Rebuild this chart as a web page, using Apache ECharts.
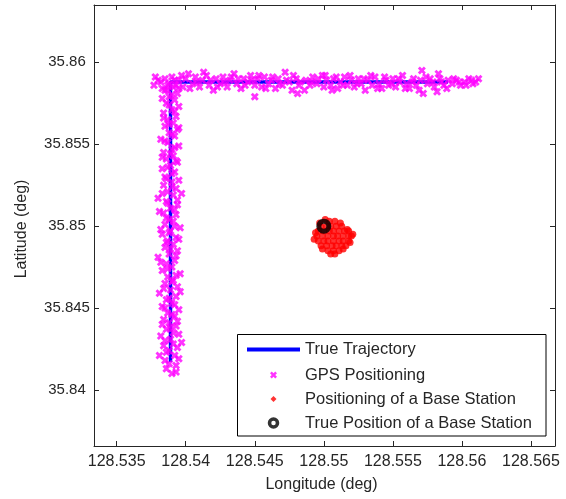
<!DOCTYPE html>
<html>
<head>
<meta charset="utf-8">
<script src="https://cdn.jsdelivr.net/npm/echarts@6/dist/echarts.min.js"></script>
<style>
html,body{margin:0;padding:0;background:#fff;}
#chart{width:566px;height:499px;}
</style>
</head>
<body>
<div id="chart"></div>
<script>
// ---------- data ----------
const xTicks = [128.535, 128.54, 128.545, 128.55, 128.555, 128.56, 128.565];
const xTickLabels = ['128.535', '128.54', '128.545', '128.55', '128.555', '128.56', '128.565'];
const yTicks = [35.84, 35.845, 35.85, 35.855, 35.86];
const yTickLabels = ['35.84', '35.845', '35.85', '35.855', '35.86'];
const xRange = [128.53336, 128.56674];
const yRange = [35.83658, 35.8635];

const seriesNames = ['True Trajectory', 'GPS Positioning', 'Positioning of a Base Station', 'True Position of a Base Station'];

const trueTrajectory = [
  [128.5389, 35.8417], [128.5389, 35.8588], [128.5590, 35.8588]
];

const gpsHorizontal = [
  [128.5377,35.8586],[128.5380,35.8589],[128.5383,35.8584],[128.5385,35.8590],[128.5388,35.8587],
  [128.5390,35.8591],[128.5393,35.8586],[128.5395,35.8589],[128.5398,35.8585],[128.5400,35.8590],
  [128.5402,35.8593],[128.5405,35.8587],[128.5407,35.8591],[128.5410,35.8585],[128.5412,35.8589],
  [128.5415,35.8592],[128.5417,35.8586],[128.5420,35.8583],[128.5422,35.8590],[128.5425,35.8587],
  [128.5427,35.8591],[128.5430,35.8585],[128.5432,35.8589],[128.5435,35.8593],[128.5437,35.8587],
  [128.5440,35.8584],[128.5442,35.8590],[128.5445,35.8588],[128.5447,35.8592],[128.5450,35.8586],
  [128.5450,35.8579],[128.5452,35.8590],[128.5455,35.8585],[128.5457,35.8591],[128.5460,35.8587],
  [128.5462,35.8589],[128.5465,35.8584],[128.5467,35.8590],[128.5470,35.8586],[128.5472,35.8594],
  [128.5475,35.8588],[128.5477,35.8583],[128.5480,35.8590],[128.5481,35.8581],[128.5482,35.8586],
  [128.5487,35.8589],[128.5490,35.8586],[128.5492,35.8591],[128.5495,35.8587],[128.5499,35.8592],
  [128.5500,35.8585],[128.5502,35.8589],[128.5505,35.8586],[128.5507,35.8590],[128.5510,35.8584],
  [128.5512,35.8588],[128.5515,35.8591],[128.5517,35.8586],[128.5520,35.8589],[128.5522,35.8585],
  [128.5525,35.8590],[128.5527,35.8587],[128.5530,35.8583],[128.5532,35.8589],[128.5535,35.8586],
  [128.5537,35.8591],[128.5540,35.8587],[128.5542,35.8584],[128.5545,35.8589],[128.5547,35.8586],
  [128.5550,35.8590],[128.5552,35.8585],[128.5555,35.8588],[128.5557,35.8592],[128.5560,35.8587],
  [128.5562,35.8584],[128.5565,35.8590],[128.5567,35.8586],[128.5570,35.8589],[128.5571,35.8595],
  [128.5572,35.8581],[128.5575,35.8587],[128.5577,35.8590],[128.5580,35.8585],[128.5583,35.8593],
  [128.5582,35.8582],[128.5585,35.8588],[128.5587,35.8586],[128.5590,35.8589],[128.5593,35.8587],
  [128.5596,35.8589],[128.5599,35.8586],[128.5602,35.8588],[128.5605,35.8590],[128.5608,35.8587],
  [128.5612,35.8590],
  [128.5378,35.8591],[128.5382,35.8588],[128.5387,35.8583],[128.5392,35.8589],[128.5397,35.8592],
  [128.5403,35.8584],[128.5408,35.8588],[128.5413,35.8594],[128.5418,35.8589],[128.5423,35.8585],
  [128.5428,35.8588],[128.5433,35.8591],[128.5438,35.8590],[128.5443,35.8586],[128.5448,35.8589],
  [128.5453,35.8592],[128.5458,35.8584],[128.5463,35.8591],[128.5468,35.8587],[128.5473,35.8589],
  [128.5478,35.8592],[128.5483,35.8588],[128.5486,35.8583],[128.5491,35.8588],[128.5496,35.8590],
  [128.5501,35.8592],[128.5506,35.8583],[128.5509,35.8591],[128.5514,35.8586],[128.5519,35.8592],
  [128.5524,35.8587],[128.5529,35.8590],[128.5534,35.8592],[128.5539,35.8584],[128.5544,35.8591],
  [128.5549,35.8587],[128.5554,35.8590],[128.5559,35.8584],[128.5564,35.8588],[128.5569,35.8583],
  [128.5574,35.8591],[128.5579,35.8588],[128.5584,35.8590],[128.5589,35.8584],[128.5594,35.8590],
  [128.5598,35.8588],[128.5603,35.8586],[128.5607,35.8589],[128.5610,35.8588]
];

const gpsVertical = [
  [128.5390,35.8410],[128.5386,35.8413],[128.5393,35.8415],[128.5385,35.8418],[128.5381,35.8421],
  [128.5392,35.8421],[128.5388,35.8424],[128.5394,35.8426],[128.5384,35.8427],[128.5397,35.8429],
  [128.5389,35.8431],[128.5382,35.8433],[128.5391,35.8435],[128.5386,35.8437],[128.5393,35.8439],
  [128.5388,35.8441],[128.5384,35.8443],[128.5392,35.8445],[128.5387,35.8447],[128.5395,35.8449],
  [128.5383,35.8451],[128.5390,35.8453],[128.5386,35.8455],[128.5393,35.8457],[128.5381,35.8459],
  [128.5389,35.8461],[128.5394,35.8463],[128.5385,35.8465],[128.5391,35.8467],[128.5387,35.8469],
  [128.5396,35.8471],[128.5383,35.8473],[128.5390,35.8475],[128.5386,35.8477],[128.5392,35.8479],
  [128.5380,35.8481],[128.5388,35.8483],[128.5394,35.8485],[128.5385,35.8487],[128.5391,35.8489],
  [128.5387,35.8491],[128.5393,35.8493],[128.5383,35.8495],[128.5389,35.8497],[128.5396,35.8499],
  [128.5385,35.8501],[128.5391,35.8503],[128.5386,35.8505],[128.5393,35.8507],[128.5381,35.8509],
  [128.5389,35.8511],[128.5394,35.8513],[128.5386,35.8515],[128.5380,35.8517],[128.5391,35.8519],
  [128.5397,35.8520],[128.5387,35.8521],[128.5393,35.8523],[128.5384,35.8525],[128.5390,35.8527],
  [128.5386,35.8529],[128.5392,35.8533],[128.5383,35.8535],[128.5389,35.8537],[128.5394,35.8539],
  [128.5386,35.8541],[128.5391,35.8543],[128.5384,35.8545],[128.5390,35.8547],[128.5395,35.8549],
  [128.5387,35.8551],[128.5382,35.8553],[128.5392,35.8555],[128.5388,35.8557],[128.5394,35.8559],
  [128.5385,35.8561],[128.5391,35.8563],[128.5387,35.8565],[128.5393,35.8567],[128.5384,35.8569],
  [128.5390,35.8571],[128.5395,35.8573],[128.5386,35.8575],[128.5392,35.8577],[128.5388,35.8579],
  [128.5394,35.8581],[128.5385,35.8583],[128.5391,35.8585],
  [128.5393,35.8411],[128.5388,35.8416],[128.5395,35.8419],[128.5386,35.8423],[128.5391,35.8428],
  [128.5385,35.8430],[128.5395,35.8434],[128.5389,35.8438],[128.5383,35.8440],[128.5394,35.8442],
  [128.5390,35.8446],[128.5385,35.8450],[128.5392,35.8452],[128.5388,35.8456],[128.5396,35.8460],
  [128.5384,35.8462],[128.5390,35.8466],[128.5393,35.8470],[128.5387,35.8474],[128.5382,35.8478],
  [128.5393,35.8482],[128.5389,35.8486],[128.5386,35.8490],[128.5395,35.8492],[128.5388,35.8496],
  [128.5382,35.8498],[128.5392,35.8500],[128.5388,35.8504],[128.5384,35.8508],[128.5392,35.8510],
  [128.5387,35.8514],[128.5394,35.8516],[128.5383,35.8520],[128.5390,35.8524],[128.5395,35.8528],
  [128.5385,35.8530],[128.5390,35.8532],[128.5387,35.8536],[128.5393,35.8540],[128.5383,35.8542],
  [128.5389,35.8544],[128.5392,35.8548],[128.5385,35.8552],[128.5390,35.8556],[128.5395,35.8560],
  [128.5388,35.8562],[128.5384,35.8566],[128.5392,35.8570],[128.5388,35.8574],[128.5383,35.8578],
  [128.5390,35.8580],[128.5395,35.8584],[128.5387,35.8586]
];

const baseStationEstimates = [
  [128.5504,35.8503],[128.5508,35.8503],
  [128.5498,35.8500],[128.5502,35.8500],[128.5505,35.8500],[128.5509,35.8500],[128.5513,35.8500],
  [128.5496,35.8497],[128.5500,35.8497],[128.5504,35.8497],[128.5507,35.8497],[128.5511,35.8497],[128.5515,35.8497],[128.5518,35.8497],
  [128.5495,35.8494],[128.5499,35.8494],[128.5503,35.8494],[128.5507,35.8494],[128.5510,35.8494],[128.5514,35.8494],[128.5518,35.8494],[128.5520,35.8494],
  [128.5496,35.8491],[128.5500,35.8491],[128.5503,35.8491],[128.5507,35.8491],[128.5511,35.8491],[128.5514,35.8491],[128.5518,35.8491],
  [128.5498,35.8488],[128.5502,35.8488],[128.5506,35.8488],[128.5509,35.8488],[128.5513,35.8488],[128.5516,35.8488],
  [128.5503,35.8485],[128.5507,35.8485],[128.5511,35.8485],
  [128.5494,35.8496],[128.5519,35.8490],[128.5501,35.8504],[128.5512,35.8502],[128.5517,35.8498],
  [128.5499,35.8486],[128.5514,35.8486],[128.5493,35.8492],[128.5508,35.8483],[128.5521,35.8495],
  [128.5505,35.8483],[128.5497,35.8502]
];

const trueBaseStation = [[128.5500, 35.8500]];

// ---------- chart ----------
const FONT = "'Liberation Sans', Arial, Helvetica, sans-serif";
const TXT = '#262626';
const xPath = 'path://M0,2.5L2.5,0L5,2.5L7.5,0L10,2.5L7.5,5L10,7.5L7.5,10L5,7.5L2.5,10L0,7.5L2.5,5Z';

function lab(ticks, labels) {
  return function (v) {
    for (let i = 0; i < ticks.length; i++) if (Math.abs(ticks[i] - v) < 1e-9) return labels[i];
    return '';
  };
}

function legendRow(name, left, top, itemHeight, icon, itemStyle) {
  const d = { name: name, icon: icon };
  if (itemStyle) d.itemStyle = itemStyle;
  return {
    left: left, top: top, padding: 0, orient: 'vertical',
    itemWidth: 53, itemHeight: itemHeight, symbolKeepAspect: true,
    selectedMode: false,
    textStyle: { fontSize: 16.5, color: TXT, fontFamily: FONT },
    data: [d]
  };
}

const axisLineStyle = { color: '#262626', width: 1 };

const option = {
  animation: false,
  backgroundColor: '#fff',
  grid: { left: 94, right: 11, top: 5, bottom: 53 },
  xAxis: [
    {
      type: 'value', min: xRange[0], max: xRange[1], position: 'bottom',
      name: 'Longitude (deg)', nameLocation: 'middle', nameGap: 31,
      nameTextStyle: { fontSize: 16, color: TXT, fontFamily: FONT, padding: [0, 6, 0, 0] },
      axisLine: { show: true, lineStyle: axisLineStyle },
      axisTick: { show: true, inside: true, length: 5, customValues: xTicks, lineStyle: axisLineStyle },
      axisLabel: { show: true, customValues: xTicks, formatter: lab(xTicks, xTickLabels), margin: 8,
                   fontSize: 16, color: TXT, fontFamily: FONT },
      splitLine: { show: false }
    },
    {
      type: 'value', min: xRange[0], max: xRange[1], position: 'top',
      axisLine: { show: true, lineStyle: axisLineStyle },
      axisTick: { show: true, inside: true, length: 5, customValues: xTicks, lineStyle: axisLineStyle },
      axisLabel: { show: false },
      splitLine: { show: false }
    }
  ],
  yAxis: [
    {
      type: 'value', min: yRange[0], max: yRange[1], position: 'left',
      name: 'Latitude (deg)', nameLocation: 'middle', nameGap: 64,
      nameTextStyle: { fontSize: 16, color: TXT, fontFamily: FONT, padding: [0, 7, 0, 0] },
      axisLine: { show: true, lineStyle: axisLineStyle },
      axisTick: { show: true, inside: true, length: 5, customValues: yTicks, lineStyle: axisLineStyle },
      axisLabel: { show: true, customValues: yTicks, formatter: lab(yTicks, yTickLabels), margin: 27,
                   align: 'center', fontSize: 15, color: TXT, fontFamily: FONT },
      splitLine: { show: false }
    },
    {
      type: 'value', min: yRange[0], max: yRange[1], position: 'right',
      axisLine: { show: true, lineStyle: axisLineStyle },
      axisTick: { show: true, inside: true, length: 5, customValues: yTicks, lineStyle: axisLineStyle },
      axisLabel: { show: false },
      splitLine: { show: false }
    }
  ],
  graphic: [
    { type: 'rect', z: 3, shape: { x: 237.5, y: 334.5, width: 308.5, height: 101.5 },
      style: { fill: '#fff', stroke: '#000', lineWidth: 1 } }
  ],
  legend: [
    legendRow(seriesNames[0], 247, 341, 4, 'path://M0,0H53V4H0Z'),
    legendRow(seriesNames[1], 270, 366.5, 7, xPath),
    legendRow(seriesNames[2], 270.5, 390.5, 6, 'path://M5,0L10,5L5,10L0,5Z'),
    legendRow(seriesNames[3], 267.75, 414.5, 8, 'circle', { color: 'rgba(0,0,0,0)', borderColor: '#000', borderWidth: 3.5 })
  ],
  series: [
    {
      name: seriesNames[0], type: 'line', data: trueTrajectory, xAxisIndex: 0, yAxisIndex: 0,
      symbol: 'none', lineStyle: { color: '#0000ff', width: 3.5 }, itemStyle: { color: '#0000ff' }, z: 1
    },
    {
      name: seriesNames[1], type: 'scatter', data: gpsHorizontal.concat(gpsVertical),
      symbol: xPath, symbolSize: 8, itemStyle: { color: '#ff00ff' }, z: 2
    },
    {
      name: seriesNames[2], type: 'scatter', data: baseStationEstimates,
      symbol: 'circle', symbolSize: 7, itemStyle: { color: '#ff0000' }, z: 2
    },
    {
      name: seriesNames[3], type: 'scatter', data: trueBaseStation,
      symbol: 'circle', symbolSize: 10,
      itemStyle: { color: 'rgba(0,0,0,0)', borderColor: '#000', borderWidth: 5 }, z: 2
    }
  ]
};

const chart = echarts.init(document.getElementById('chart'), null, { renderer: 'canvas' });
chart.setOption(option);
</script>
</body>
</html>
